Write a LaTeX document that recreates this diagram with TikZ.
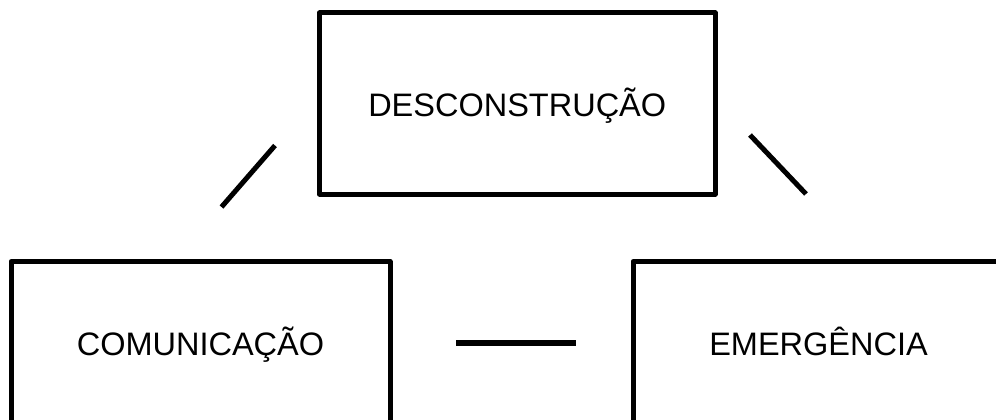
\documentclass[tikz,border=0pt]{standalone}
\usepackage{fontspec}
\setmainfont{Liberation Sans}
\begin{document}
\begin{tikzpicture}[x=1pt,y=-1pt,
  box/.style={draw=black,line width=5pt,line join=round,inner sep=0pt,fill=white,
    text height=23.3pt,text depth=0pt,
    font=\fontsize{32.5}{39}\selectfont},
  link/.style={draw=black,line width=5pt}]
\useasboundingbox (0,0) rectangle (996,420);
\clip (0,0) rectangle (996,420);
\fill[white] (0,0) rectangle (996,420);
\node[box,text height=26.3pt,minimum width=395.5pt,minimum height=181pt] (desc) at (517.25,103.5) {DESCONSTRUÇÃO};
\node[box,minimum width=379pt,minimum height=164pt] (comu) at (200.5,343.5) {COMUNICAÇÃO};
\node[box,minimum width=371pt,minimum height=164pt] (emer) at (818.5,343.5) {EMERGÊNCIA};
\coordinate (la) at (221.5,207);
\coordinate (lb) at (275,145.5);
\coordinate (ra) at (750,135);
\coordinate (rb) at (806,194);
\coordinate (ha) at (456,343);
\coordinate (hb) at (575.5,343);
\draw[link] (la) -- (lb);
\draw[link] (ra) -- (rb);
\draw[link,line width=5.5pt] (ha) -- (hb);
\end{tikzpicture}
\end{document}
